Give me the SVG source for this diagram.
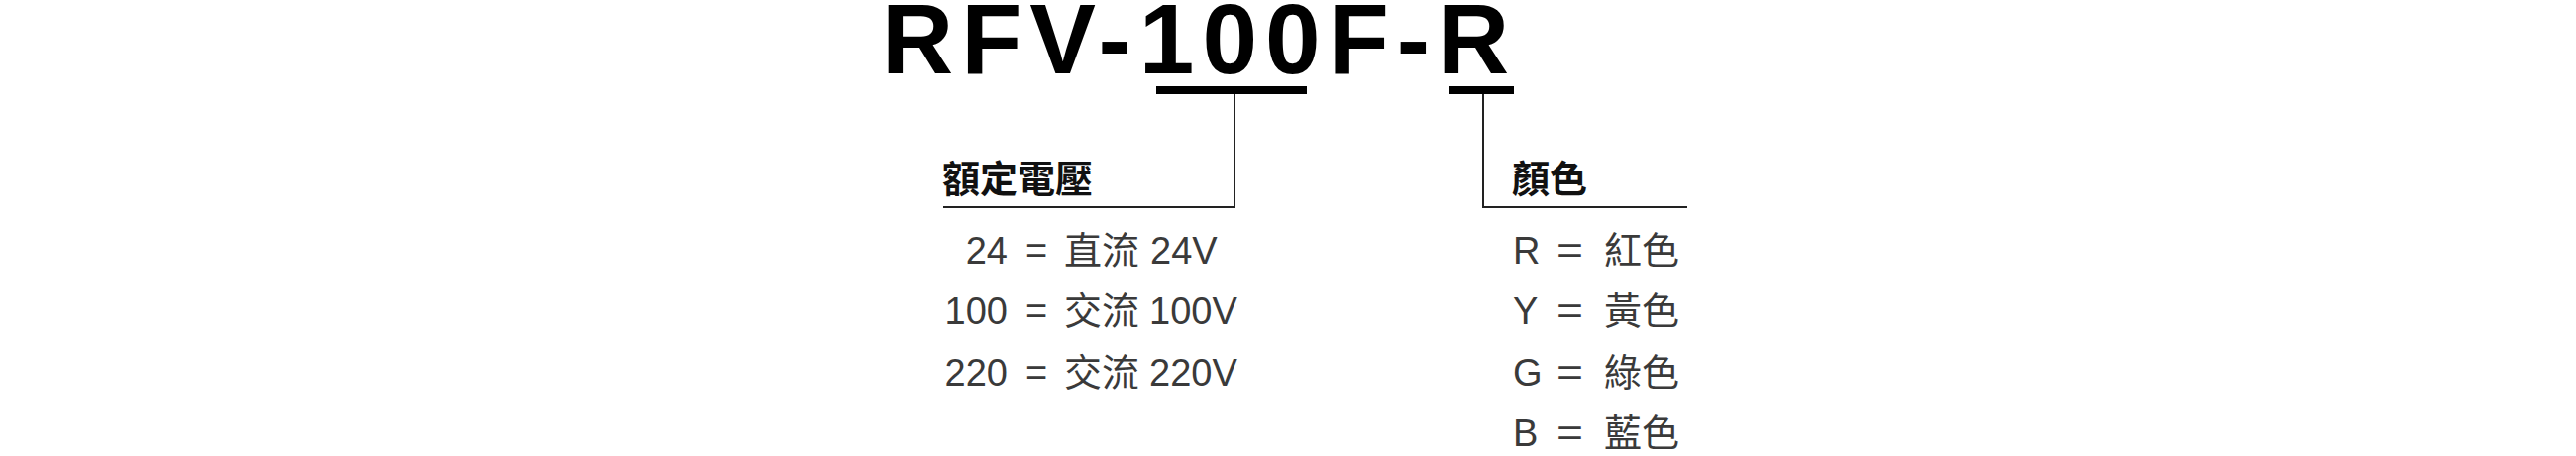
<svg xmlns="http://www.w3.org/2000/svg" width="2600" height="460" viewBox="0 0 2600 460">
<style>
.title{font-family:"Liberation Sans",Arial,sans-serif;font-weight:bold;font-size:100px;fill:#000;letter-spacing:8px}
.head{font-family:"Noto Sans CJK TC","Noto Sans CJK SC",sans-serif;font-weight:bold;font-size:38px;fill:#111}
.body{font-family:"Liberation Sans","Noto Sans CJK TC",sans-serif;font-size:38px;fill:#3a3a3a}
.cjk{font-family:"Noto Sans CJK TC","Noto Sans CJK SC",sans-serif;font-size:38px;fill:#3a3a3a}
.bar{fill:#000}
.ln{stroke:#222;stroke-width:2;fill:none}
</style>
<rect width="2600" height="460" fill="#fff"/>
<g id="title">
<text class="title" x="890" y="74">RFV-100F-R</text>
</g>
<g id="connectors">
<rect class="bar" x="1167" y="87" width="152" height="8"/>
<rect class="bar" x="1463" y="87" width="65" height="8"/>
<polyline class="ln" points="1246,95 1246,209 952,209"/>
<polyline class="ln" points="1497,95 1497,209 1703,209"/>
</g>
<g id="voltage">
<text class="head" x="951" y="194">額定電壓</text>
<text class="body" x="1017" y="266" text-anchor="end">24</text>
<text class="body" x="1035" y="266">=</text>
<text class="cjk" x="1074" y="266">直流</text>
<text class="body" x="1161" y="266">24V</text>
<text class="body" x="1017" y="327" text-anchor="end">100</text>
<text class="body" x="1035" y="327">=</text>
<text class="cjk" x="1074" y="327">交流</text>
<text class="body" x="1160" y="327">100V</text>
<text class="body" x="1017" y="389" text-anchor="end">220</text>
<text class="body" x="1035" y="389">=</text>
<text class="cjk" x="1074" y="389">交流</text>
<text class="body" x="1160" y="389">220V</text>
</g>
<g id="color">
<text class="head" x="1526" y="194">顏色</text>
<text class="body" x="1527" y="266">R</text>
<text class="body" x="1571" y="266" textLength="27" lengthAdjust="spacingAndGlyphs">=</text>
<text class="cjk" x="1619" y="266">紅色</text>
<text class="body" x="1527" y="327">Y</text>
<text class="body" x="1571" y="327" textLength="27" lengthAdjust="spacingAndGlyphs">=</text>
<text class="cjk" x="1619" y="327">黃色</text>
<text class="body" x="1527" y="389">G</text>
<text class="body" x="1571" y="389" textLength="27" lengthAdjust="spacingAndGlyphs">=</text>
<text class="cjk" x="1619" y="389">綠色</text>
<text class="body" x="1527" y="450">B</text>
<text class="body" x="1571" y="450" textLength="27" lengthAdjust="spacingAndGlyphs">=</text>
<text class="cjk" x="1619" y="450">藍色</text>
</g>
</svg>
